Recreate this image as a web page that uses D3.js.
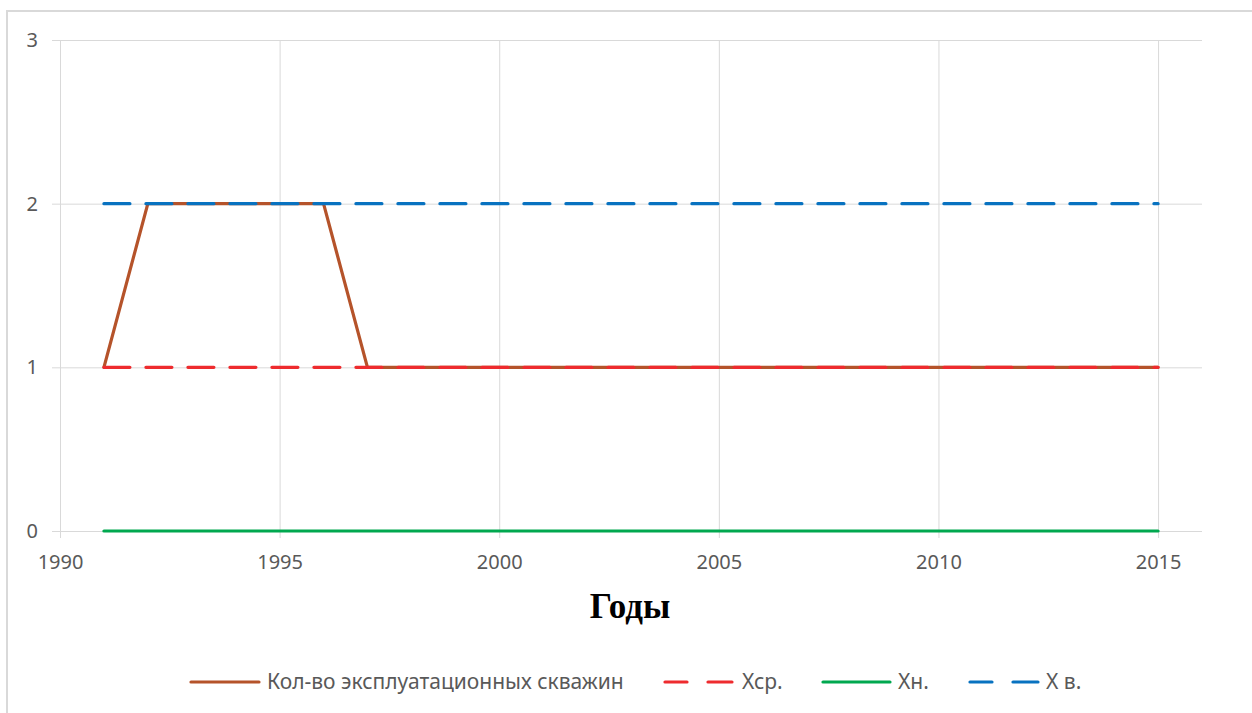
<!DOCTYPE html>
<html>
<head>
<meta charset="utf-8">
<script src="https://cdn.jsdelivr.net/npm/d3@7"></script>
<style>
  html, body { margin: 0; padding: 0; background: #fff; }
  svg { display: block; }
</style>
</head>
<body>
<svg id="chart" width="1252" height="713"></svg>
<script>
// ---- data ----
const years = [1991,1992,1993,1994,1995,1996,1997,1998,1999,2000,2001,2002,2003,2004,2005,2006,2007,2008,2009,2010,2011,2012,2013,2014,2015];
const wells = [1,2,2,2,2,2,1,1,1,1,1,1,1,1,1,1,1,1,1,1,1,1,1,1,1];
const xAvg  = [1,1,1,1,1,1,1,1,1,1,1,1,1,1,1,1,1,1,1,1,1,1,1,1,1];
const xLow  = [0,0,0,0,0,0,0,0,0,0,0,0,0,0,0,0,0,0,0,0,0,0,0,0,0];
const xHigh = [2,2,2,2,2,2,2,2,2,2,2,2,2,2,2,2,2,2,2,2,2,2,2,2,2];
const xTicks = [1990,1995,2000,2005,2010,2015];
const yTicks = [0,1,2,3];
const seriesNames = ["Кол-во эксплуатационных скважин", "Хср.", "Хн.", "Х в."];
const axisTitle = "Годы";

const series = [
  { name: seriesNames[0], values: wells, color: "#b5532a", dash: null },
  { name: seriesNames[1], values: xAvg,  color: "#ee2b2e", dash: "26,16" },
  { name: seriesNames[2], values: xLow,  color: "#00a84f", dash: null },
  { name: seriesNames[3], values: xHigh, color: "#0872c0", dash: "26,16" }
];

const svg = d3.select("#chart");
const font = "'Noto Sans', 'Open Sans', sans-serif";

// frame
svg.append("rect")
  .attr("x", 7).attr("y", 11).attr("width", 1260).attr("height", 720)
  .attr("fill", "#fff").attr("stroke", "#d9d9d9").attr("stroke-width", 2);

const x = d3.scaleLinear().domain([1990, 2016]).range([60, 1202]);
const y = d3.scaleLinear().domain([0, 3]).range([531, 40]);

// horizontal gridlines
const yAxis = d3.axisLeft(y).tickValues(yTicks).tickSize(-(1202 - 52)).tickPadding(15).tickFormat(d3.format("d"));
const gy = svg.append("g").attr("transform", "translate(52,0)").call(yAxis);
gy.select(".domain").remove();
gy.selectAll(".tick line").attr("stroke", "#d9d9d9").attr("stroke-width", 1);
gy.selectAll(".tick text").attr("font-family", font).attr("font-size", 20).attr("fill", "#595959").attr("x", -14);

// vertical gridlines
const xAxis = d3.axisBottom(x).tickValues(xTicks).tickSize(-(538 - 40)).tickPadding(0).tickFormat(d3.format("d"));
const gx = svg.append("g").attr("transform", "translate(0,538)").call(xAxis);
gx.select(".domain").remove();
gx.selectAll(".tick line").attr("stroke", "#d9d9d9").attr("stroke-width", 1);
gx.selectAll(".tick text").attr("font-family", font).attr("font-size", 20).attr("fill", "#595959")
  .attr("dy", null).attr("y", 31);

// lines
const line = d3.line().x((d, i) => x(years[i])).y(d => y(d));
series.forEach(s => {
  svg.append("path")
    .datum(s.values)
    .attr("d", line)
    .attr("fill", "none")
    .attr("stroke", s.color)
    .attr("stroke-width", 3.2)
    .attr("stroke-linejoin", "round")
    .attr("stroke-linecap", "round")
    .attr("stroke-dasharray", s.dash);
});

// axis title
svg.append("text")
  .attr("x", 630).attr("y", 618)
  .attr("text-anchor", "middle")
  .attr("font-family", "'Liberation Serif', 'Times New Roman', serif")
  .attr("font-weight", "bold")
  .attr("font-size", 35)
  .attr("fill", "#000")
  .text(axisTitle);

// legend
const legendItems = [
  { s: series[0], x1: 190, x2: 260, tx: 267 },
  { s: series[1], x1: 664, x2: 733, tx: 742 },
  { s: series[2], x1: 822, x2: 891, tx: 898 },
  { s: series[3], x1: 969, x2: 1039, tx: 1046 }
];
legendItems.forEach(it => {
  if (it.s.dash) {
    svg.append("line").attr("x1", it.x1 + 1).attr("x2", it.x1 + 23).attr("y1", 682).attr("y2", 682)
      .attr("stroke", it.s.color).attr("stroke-width", 3.2).attr("stroke-linecap", "round");
    svg.append("line").attr("x1", it.x1 + 44).attr("x2", it.x2 - 1).attr("y1", 682).attr("y2", 682)
      .attr("stroke", it.s.color).attr("stroke-width", 3.2).attr("stroke-linecap", "round");
  } else {
    svg.append("line").attr("x1", it.x1 + 1).attr("x2", it.x2 - 1).attr("y1", 682).attr("y2", 682)
      .attr("stroke", it.s.color).attr("stroke-width", 3.2).attr("stroke-linecap", "round");
  }
  svg.append("text").attr("x", it.tx).attr("y", 689)
    .attr("font-family", font).attr("font-size", 21).attr("fill", "#595959")
    .text(it.s.name);
});
</script>
</body>
</html>
